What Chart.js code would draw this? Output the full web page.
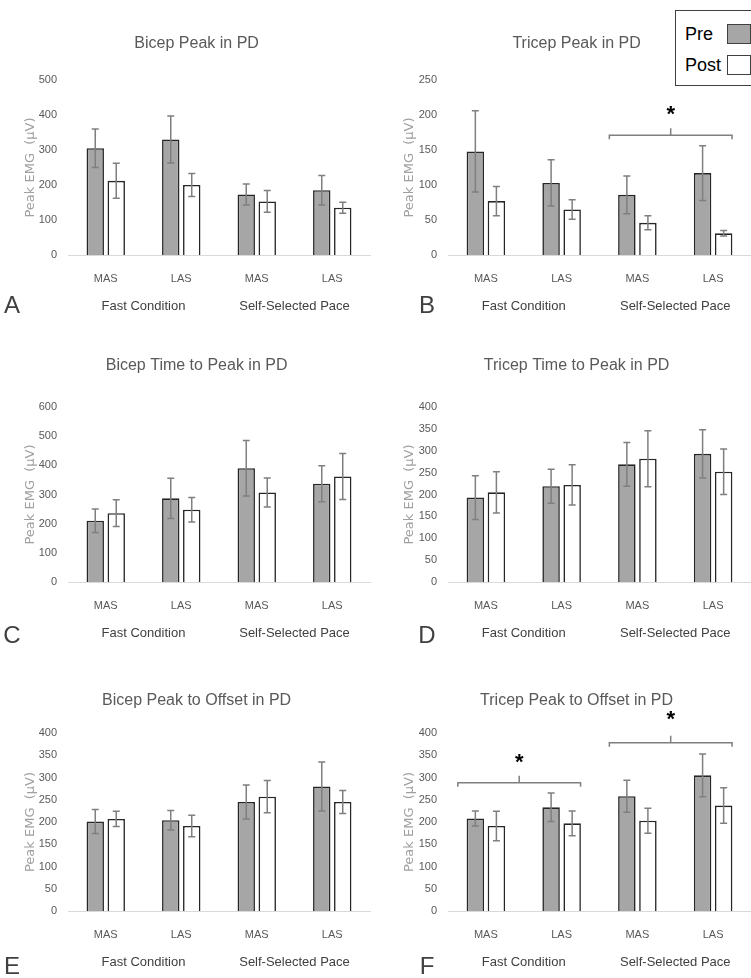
<!DOCTYPE html>
<html><head><meta charset="utf-8">
<script src="https://cdn.jsdelivr.net/npm/chart.js@4.4.1/dist/chart.umd.min.js"></script>
<style>
html,body{margin:0;padding:0;background:#fff;}
body{width:751px;height:978px;position:relative;overflow:hidden;}
canvas.panel{position:absolute;}
.letter{position:absolute;color:#404040;line-height:1;transform:translate(-50%,-50%);}
#legend{position:absolute;left:675px;top:10px;width:90px;height:76px;border:1.5px solid #404040;box-sizing:border-box;background:#fff;}
#legend .txt{position:absolute;left:9px;color:#000;line-height:1;transform:translateY(-50%);}
#legend .sw{position:absolute;left:51px;width:24px;height:20px;border:1.2px solid #404040;box-sizing:border-box;}
</style></head><body>
<script>
// ---------- DATA ----------
const categories = ['MAS', 'LAS', 'MAS', 'LAS'];
const groupLabels = ['Fast Condition', 'Self-Selected Pace'];
const seriesNames = ['Pre', 'Post'];

const bicepPeakPre = [305, 330, 173, 185];
const bicepPeakPreErr = [55, 67, 30, 42];
const bicepPeakPost = [212, 200, 153, 135];
const bicepPeakPostErr = [50, 33, 31, 16];

const tricepPeakPre = [148, 103, 86, 117];
const tricepPeakPreErr = [58, 33, 27, 39];
const tricepPeakPost = [77, 65, 46, 31];
const tricepPeakPostErr = [21, 14, 10, 4];

const bicepTimePre = [210, 287, 390, 337];
const bicepTimePreErr = [40, 69, 95, 62];
const bicepTimePost = [236, 248, 307, 362];
const bicepTimePostErr = [46, 42, 50, 79];

const tricepTimePre = [193, 219, 269, 293];
const tricepTimePreErr = [50, 39, 50, 55];
const tricepTimePost = [205, 222, 282, 252];
const tricepTimePostErr = [47, 46, 64, 52];

const bicepOffsetPre = [201, 204, 245, 280];
const bicepOffsetPreErr = [27, 22, 38, 55];
const bicepOffsetPost = [207, 191, 257, 245];
const bicepOffsetPostErr = [17, 24, 36, 26];

const tricepOffsetPre = [208, 233, 258, 305];
const tricepOffsetPreErr = [17, 32, 36, 48];
const tricepOffsetPost = [191, 197, 203, 237];
const tricepOffsetPostErr = [33, 28, 28, 40];

const yMaxes = [500, 250, 600, 400, 400, 400];
const ySteps = [100, 50, 100, 50, 50, 50];

// significance brackets: category span, bracket value, star value
const bracketsB = [{from: 2, to: 3, at: 171, star: 204}];
const bracketsF = [{from: 0, to: 1, at: 288, star: 339}, {from: 2, to: 3, at: 378, star: 436}];

const titles = ['Bicep Peak in PD', 'Tricep Peak in PD', 'Bicep Time to Peak in PD',
  'Tricep Time to Peak in PD', 'Bicep Peak to Offset in PD', 'Tricep Peak to Offset in PD'];
const panelLetters = ['A', 'B', 'C', 'D', 'E', 'F'];
const yAxisTitle = 'Peak EMG  (\u03BCV)';

// ---------- FONTS ----------
const FAM = '"Liberation Sans", Arial, sans-serif';
const SZ = {title: 16, tick: 11, group: 13, legend: 18, letter: 24};
Chart.defaults.font.family = FAM;

// ---------- LAYOUT ----------
const cols = [
  {canvasLeft: 0, width: 390, areaLeft: 68, areaRight: 370, yTitleX: 31, letterX: 12},
  {canvasLeft: 393, width: 358, areaLeft: 448, areaRight: 751, yTitleX: 410, letterX: 427}
];
const rows = [
  {plotTop: 80, plotBottom: 255, titleY: 44, letterY: 305},
  {plotTop: 407, plotBottom: 582, titleY: 366, letterY: 635},
  {plotTop: 733, plotBottom: 911, titleY: 701, letterY: 966}
];
const TOPSPACE = 80, BOTSPACE = 65, XH = 30;

const series = [
  [bicepPeakPre, bicepPeakPreErr, bicepPeakPost, bicepPeakPostErr],
  [tricepPeakPre, tricepPeakPreErr, tricepPeakPost, tricepPeakPostErr],
  [bicepTimePre, bicepTimePreErr, bicepTimePost, bicepTimePostErr],
  [tricepTimePre, tricepTimePreErr, tricepTimePost, tricepTimePostErr],
  [bicepOffsetPre, bicepOffsetPreErr, bicepOffsetPost, bicepOffsetPostErr],
  [tricepOffsetPre, tricepOffsetPreErr, tricepOffsetPost, tricepOffsetPostErr]
];
const brackets = [[], bracketsB, [], [], [], bracketsF];

const errorBarPlugin = {
  id: 'errorBars',
  afterDatasetsDraw(chart) {
    const ctx = chart.ctx, ys = chart.scales.y;
    ctx.save();
    ctx.strokeStyle = '#7f7f7f'; ctx.lineWidth = 1.5;
    chart.data.datasets.forEach((ds, di) => {
      const meta = chart.getDatasetMeta(di);
      meta.data.forEach((bar, i) => {
        const v = ds.data[i], e = ds.errors[i];
        const yt = ys.getPixelForValue(v + e), yb = ys.getPixelForValue(v - e);
        const x = bar.x, w = 3.5;
        ctx.beginPath();
        ctx.moveTo(x, yt); ctx.lineTo(x, yb);
        ctx.moveTo(x - w, yt); ctx.lineTo(x + w, yt);
        ctx.moveTo(x - w, yb); ctx.lineTo(x + w, yb);
        ctx.stroke();
      });
    });
    ctx.restore();
  }
};

function makeBracketPlugin(items) {
  return {
    id: 'sigBrackets',
    afterDraw(chart) {
      if (!items.length) return;
      const ctx = chart.ctx, xs = chart.scales.x, ys = chart.scales.y;
      const catW = (chart.chartArea.right - chart.chartArea.left) / categories.length;
      ctx.save();
      items.forEach(b => {
        const x1 = xs.getPixelForValue(b.from) - 0.37 * catW;
        const x2 = xs.getPixelForValue(b.to) + 0.25 * catW;
        const xm = (x1 + x2) / 2;
        const y = ys.getPixelForValue(b.at);
        ctx.strokeStyle = '#7f7f7f'; ctx.lineWidth = 1.5;
        ctx.beginPath();
        ctx.moveTo(x1, y + 4); ctx.lineTo(x1, y); ctx.lineTo(x2, y); ctx.lineTo(x2, y + 4);
        ctx.moveTo(xm, y); ctx.lineTo(xm, y - 7);
        ctx.stroke();
        ctx.fillStyle = '#000';
        ctx.font = 'bold 22px "Liberation Sans", sans-serif';
        ctx.textAlign = 'center'; ctx.textBaseline = 'middle';
        ctx.fillText('*', xm, ys.getPixelForValue(b.star) + 3);
      });
      ctx.restore();
    }
  };
}

const charts = [];
for (let p = 0; p < 6; p++) {
  const col = cols[p % 2], row = rows[Math.floor(p / 2)];
  const canvasTop = row.plotTop - TOPSPACE;
  const canvasH = TOPSPACE + (row.plotBottom - row.plotTop) + BOTSPACE;
  const cv = document.createElement('canvas');
  cv.className = 'panel';
  cv.style.left = col.canvasLeft + 'px'; cv.style.top = canvasTop + 'px';
  cv.style.width = col.width + 'px'; cv.style.height = canvasH + 'px';
  cv.width = col.width; cv.height = canvasH;
  document.body.appendChild(cv);

  const yTitleSize = 13, yTitleLH = yTitleSize * 1.2;
  const padLeft = col.yTitleX - col.canvasLeft - yTitleLH / 2;
  const padRight = (col.canvasLeft + col.width) - col.areaRight;
  const yWidth = col.areaLeft - col.canvasLeft - padLeft;
  const tLH = SZ.title * 1.2;
  const tTop = row.titleY - canvasTop - tLH / 2;
  const tBot = TOPSPACE - tTop - tLH;
  const [pre, preErr, post, postErr] = series[p];

  const chart = new Chart(cv, {
    type: 'bar',
    data: {
      labels: categories,
      datasets: [
        {label: seriesNames[0], data: pre, errors: preErr, backgroundColor: '#a6a6a6', borderColor: '#262626',
          borderWidth: 1.6, categoryPercentage: 0.556, barPercentage: 0.83},
        {label: seriesNames[1], data: post, errors: postErr, backgroundColor: '#ffffff', borderColor: '#262626',
          borderWidth: 1.6, categoryPercentage: 0.556, barPercentage: 0.83}
      ]
    },
    options: {
      responsive: false, animation: false, devicePixelRatio: 1,
      layout: {padding: {left: padLeft, right: padRight, top: 0, bottom: 0}},
      plugins: {
        legend: {display: false}, tooltip: {enabled: false},
        title: {display: true, text: titles[p], color: '#595959',
          font: {size: SZ.title, weight: 'normal', family: FAM}, padding: {top: tTop, bottom: tBot}}
      },
      scales: {
        x: {
          type: 'category', position: 'bottom', weight: 0,
          grid: {display: false, drawTicks: false},
          border: {display: true, color: '#d9d9d9', width: 1},
          ticks: {color: '#595959', font: {size: SZ.tick, family: FAM}, padding: 17, maxRotation: 0},
          afterFit(s) { s.height = XH; }
        },
        x2: {
          type: 'category', position: 'bottom', weight: 1, labels: groupLabels, offset: true,
          grid: {display: false, drawTicks: false}, border: {display: false},
          ticks: {color: '#404040', font: {size: SZ.group, family: FAM}, padding: 14, maxRotation: 0},
          afterFit(s) { s.height = BOTSPACE - XH; }
        },
        y: {
          min: 0, max: yMaxes[p],
          grid: {display: false, drawTicks: false}, border: {display: false},
          ticks: {stepSize: ySteps[p], color: '#595959', font: {size: SZ.tick, family: FAM}, padding: 11},
          title: {display: true, text: yAxisTitle, color: '#a0a0a0', padding: 0,
            font: {size: yTitleSize, family: '"DejaVu Sans", sans-serif'}},
          afterFit(s) { s.width = yWidth; }
        }
      }
    },
    plugins: [errorBarPlugin, makeBracketPlugin(brackets[p])]
  });
  charts.push(chart);

  const L = document.createElement('div');
  L.className = 'letter';
  L.textContent = panelLetters[p];
  L.style.left = col.letterX + 'px'; L.style.top = row.letterY + 'px';
  L.style.fontFamily = FAM; L.style.fontSize = SZ.letter + 'px';
  document.body.appendChild(L);
}

// legend built from panel B's datasets
const leg = document.createElement('div');
leg.id = 'legend';
const rowCenters = [23, 54];
charts[1].data.datasets.forEach((ds, i) => {
  const t = document.createElement('div');
  t.className = 'txt'; t.textContent = ds.label;
  t.style.top = rowCenters[i] + 'px'; t.style.fontFamily = FAM; t.style.fontSize = SZ.legend + 'px';
  const s = document.createElement('div');
  s.className = 'sw'; s.style.top = (rowCenters[i] - 10) + 'px';
  s.style.background = ds.backgroundColor;
  leg.appendChild(t); leg.appendChild(s);
});
document.body.appendChild(leg);
</script>
</body></html>
